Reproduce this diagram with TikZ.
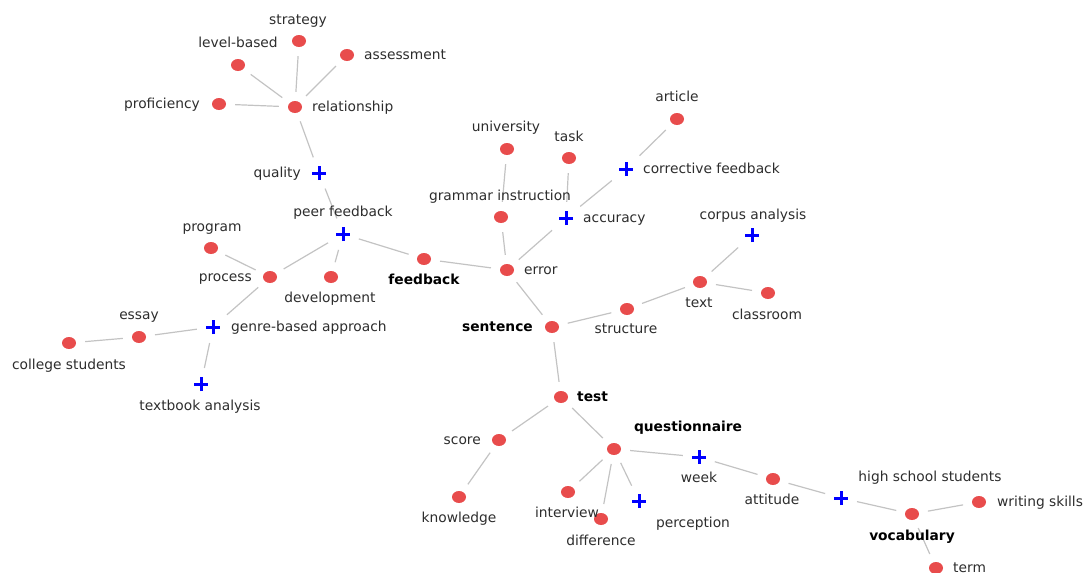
\documentclass[tikz,border=0pt]{standalone}
\usepackage{fontspec}
\setmainfont{DejaVu Sans}
\usetikzlibrary{shapes.geometric}
\definecolor{dotred}{RGB}{232,76,76}
\definecolor{edgegray}{RGB}{195,195,195}
\definecolor{labtext}{RGB}{45,45,45}
\definecolor{plusblue}{RGB}{0,0,255}
\tikzset{
  dot/.style={ellipse, fill=dotred, minimum width=14pt, minimum height=12pt, inner sep=0pt},
  plusnode/.style={rectangle, minimum size=14pt, inner sep=0pt,
    path picture={
      \draw[plusblue, line width=3pt]
        ([xshift=-7pt]path picture bounding box.center) -- ([xshift=7pt]path picture bounding box.center)
        ([yshift=-7pt]path picture bounding box.center) -- ([yshift=7pt]path picture bounding box.center);
    }},
  link/.style={draw=edgegray, line width=1.2pt, shorten >=9pt, shorten <=9pt},
  lab/.style={font=\fontsize{13.8}{16}\selectfont, text=labtext, inner sep=0pt,
    text height=1em, text depth=0.2em},
  key/.style={lab, font=\fontsize{13.8}{16}\selectfont\bfseries, text=black},
}
\begin{document}
\begin{tikzpicture}[x=1pt, y=-1pt]
\useasboundingbox (0,0) rectangle (1085,573);

% term nodes
\node[dot] (strategy) at (299,41) {};
\node[dot] (levelbased) at (238,65) {};
\node[dot] (assessment) at (347,55) {};
\node[dot] (relationship) at (295,107) {};
\node[dot] (proficiency) at (219,104) {};
\node[plusnode] (quality) at (319,173) {};
\node[plusnode] (peerfb) at (343,234) {};
\node[dot] (program) at (211,248) {};
\node[dot] (process) at (270,277) {};
\node[dot] (development) at (331,277) {};
\node[dot] (feedback) at (424,259) {};
\node[dot] (article) at (677,119) {};
\node[dot] (university) at (507,149) {};
\node[dot] (task) at (569,158) {};
\node[plusnode] (corrective) at (626,169) {};
\node[dot] (grammar) at (501,217) {};
\node[plusnode] (accuracy) at (566,218) {};
\node[plusnode] (corpus) at (752,235) {};
\node[dot] (error) at (507,270) {};
\node[dot] (text) at (700,282) {};
\node[dot] (classroom) at (768,293) {};
\node[dot] (structure) at (627,309) {};
\node[dot] (sentence) at (552,327) {};
\node[plusnode] (genre) at (213,327) {};
\node[dot] (essay) at (139,337) {};
\node[dot] (college) at (69,343) {};
\node[plusnode] (textbook) at (201,384) {};
\node[dot] (test) at (561,397) {};
\node[dot] (score) at (499,440) {};
\node[dot] (questionnaire) at (614,449) {};
\node[dot] (knowledge) at (459,497) {};
\node[dot] (interview) at (568,492) {};
\node[dot] (difference) at (601,519) {};
\node[plusnode] (perception) at (639,501) {};
\node[plusnode] (week) at (699,457) {};
\node[dot] (attitude) at (773,479) {};
\node[plusnode] (highschool) at (841,498) {};
\node[dot] (vocabulary) at (912,514) {};
\node[dot] (writing) at (979,502) {};
\node[dot] (term) at (936,568) {};

% connectors
\foreach \a/\b in {strategy/relationship, levelbased/relationship, assessment/relationship,
  proficiency/relationship, relationship/quality, quality/peerfb, peerfb/feedback,
  peerfb/process, peerfb/development, program/process, process/genre, genre/essay,
  essay/college, genre/textbook, feedback/error, error/grammar, grammar/university,
  error/accuracy, accuracy/task, accuracy/corrective, corrective/article, error/sentence,
  sentence/structure, structure/text, text/corpus, text/classroom, sentence/test,
  test/score, score/knowledge, test/questionnaire, questionnaire/interview,
  questionnaire/difference, questionnaire/perception, questionnaire/week, week/attitude,
  attitude/highschool, highschool/vocabulary, vocabulary/writing, vocabulary/term}
  \draw[link] (\a) -- (\b);

% labels
\node[lab] (l-strategy) at (298,20) {strategy};
\node[lab] (l-levelbased) at (238,43) {level-based};
\node[lab, anchor=west] (l-assessment) at (364,55) {assessment};
\node[lab, anchor=west] (l-relationship) at (312,107) {relationship};
\node[lab, anchor=east] (l-proficiency) at (200,104) {proficiency};
\node[lab, anchor=east] (l-quality) at (301,173) {quality};
\node[lab] (l-peerfb) at (343,212) {peer feedback};
\node[lab] (l-program) at (212,227) {program};
\node[lab, anchor=east] (l-process) at (252,277) {process};
\node[lab] (l-development) at (330,298) {development};
\node[key] (l-feedback) at (424,280) {feedback};
\node[lab] (l-article) at (677,97) {article};
\node[lab] (l-university) at (506,127) {university};
\node[lab] (l-task) at (569,137) {task};
\node[lab, anchor=west] (l-corrective) at (643,169) {corrective feedback};
\node[lab] (l-grammar) at (500,196) {grammar instruction};
\node[lab, anchor=west] (l-accuracy) at (583,218) {accuracy};
\node[lab] (l-corpus) at (753,215) {corpus analysis};
\node[lab, anchor=west] (l-error) at (524,270) {error};
\node[lab] (l-text) at (699,303) {text};
\node[lab] (l-classroom) at (767,315) {classroom};
\node[lab] (l-structure) at (626,329) {structure};
\node[key, anchor=east] (l-sentence) at (533,327) {sentence};
\node[lab, anchor=west] (l-genre) at (231,327) {genre-based approach};
\node[lab] (l-essay) at (139,315) {essay};
\node[lab] (l-college) at (69,365) {college students};
\node[lab] (l-textbook) at (200,406) {textbook analysis};
\node[key, anchor=west] (l-test) at (577,397) {test};
\node[lab, anchor=east] (l-score) at (481,440) {score};
\node[key] (l-questionnaire) at (688,427) {questionnaire};
\node[lab] (l-knowledge) at (459,518) {knowledge};
\node[lab] (l-interview) at (567,513) {interview};
\node[lab] (l-difference) at (601,541) {difference};
\node[lab] (l-perception) at (693,523) {perception};
\node[lab] (l-week) at (699,478) {week};
\node[lab] (l-attitude) at (772,500) {attitude};
\node[lab] (l-highschool) at (930,477) {high school students};
\node[key] (l-vocabulary) at (912,536) {vocabulary};
\node[lab, anchor=west] (l-writing) at (997,502) {writing skills};
\node[lab, anchor=west] (l-term) at (953,568) {term};
\end{tikzpicture}
\end{document}
